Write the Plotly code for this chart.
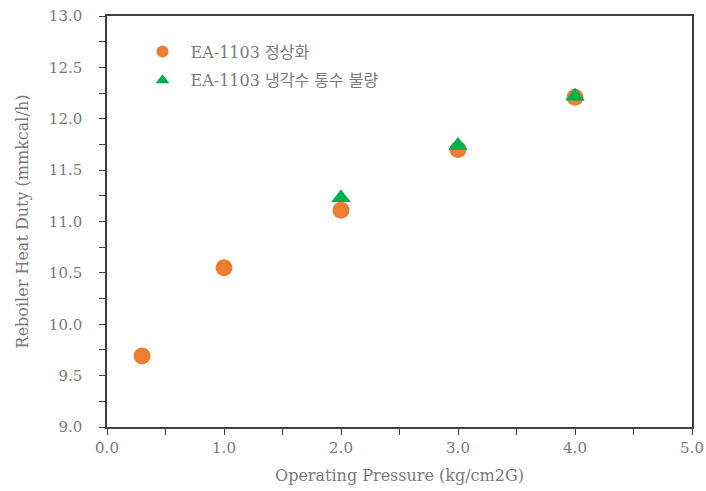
import plotly.graph_objects as go

# Operating pressure (kg/cm2G) and reboiler heat duty (mmkcal/h)
normal_pressure = [0.3, 1.0, 2.0, 3.0, 4.0]
normal_duty = [9.69, 10.55, 11.11, 11.70, 12.21]

fouled_pressure = [2.0, 3.0, 4.0]
fouled_duty = [11.23, 11.74, 12.22]

series_names = ["EA-1103 정상화", "EA-1103 냉각수 통수 불량"]

FONT = "DejaVu Serif, Noto Sans CJK KR, serif"
GRAY = "#7a7a7a"
AXIS = "#404040"

fig = go.Figure()
fig.add_trace(go.Scatter(
    x=normal_pressure, y=normal_duty, mode="markers", name=series_names[0],
    legendgroup="normal",
    marker=dict(symbol="circle", size=17, color="#ED7D31"),
))
fig.add_trace(go.Scatter(
    x=fouled_pressure, y=fouled_duty, mode="markers", name=series_names[1],
    legendgroup="fouled",
    marker=dict(symbol="triangle-up", size=17, color="#00B050"),
))

axis_common = dict(
    showgrid=False, zeroline=False, showline=True, linecolor=AXIS, linewidth=1.5,
    mirror=True, ticks="outside", ticklen=6, tickwidth=1.2, tickcolor=AXIS,
    tickfont=dict(family=FONT, size=15, color=GRAY), automargin=False,
)

fig.update_xaxes(
    range=[0, 5], tick0=0, dtick=1, tickformat=".1f",
    minor=dict(dtick=0.5, ticks="outside", ticklen=6, tickwidth=1.2, tickcolor=AXIS),
    title=dict(text="Operating Pressure (kg/cm2G)", font=dict(family=FONT, size=16, color=GRAY), standoff=14),
    **axis_common,
)
fig.update_yaxes(
    range=[9, 13], tick0=9, dtick=0.5, tickformat=".1f", ticklabelstandoff=14,
    minor=dict(dtick=0.25, ticks="outside", ticklen=6, tickwidth=1.2, tickcolor=AXIS),
    title=dict(text="Reboiler Heat Duty (mmkcal/h)", font=dict(family=FONT, size=16, color=GRAY), standoff=16),
    **axis_common,
)

fig.update_layout(
    width=706, height=491,
    margin=dict(l=107, r=14, t=16, b=64),
    paper_bgcolor="white", plot_bgcolor="white",
    showlegend=True,
    legend=dict(
        x=0.047, y=0.955, xanchor="left", yanchor="top",
        font=dict(family=FONT, size=16, color=GRAY),
        bgcolor="rgba(0,0,0,0)", tracegroupgap=5, itemsizing="constant",
        itemwidth=46,
    ),
)

fig.write_html("out.html")
